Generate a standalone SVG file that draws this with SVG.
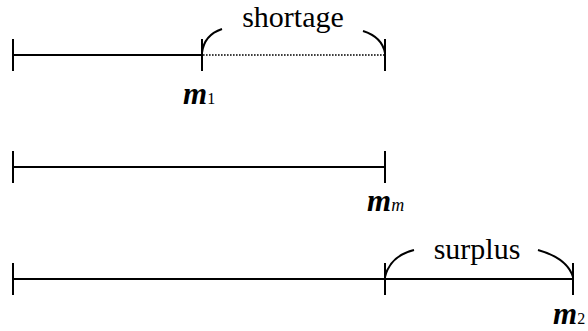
<svg xmlns="http://www.w3.org/2000/svg" width="588" height="331" viewBox="0 0 588 331">
  <style>
    .bar { stroke: #000; stroke-width: 2; fill: none; }
    .dot { stroke: #000; stroke-width: 1.6; stroke-dasharray: 1.6 1.4; fill: none; }
    .arc { stroke: #000; stroke-width: 2; fill: none; }
    text { font-family: "Liberation Serif", "Times New Roman", serif; fill: #000; }
    .word { font-size: 30px; }
    .var { font-size: 31px; font-style: italic; font-weight: bold; }
    .sub { font-size: 16px; }
    .subv { font-size: 18px; font-style: italic; }
  </style>
  <rect width="588" height="331" fill="#fff"/>

  <g id="connectors">
    <!-- row 1: m1 with shortage -->
    <line class="bar" x1="13" y1="55" x2="202" y2="55"/>
    <line class="dot" x1="203" y1="55" x2="385" y2="55"/>
    <line class="bar" x1="13" y1="39" x2="13" y2="71"/>
    <line class="bar" x1="202" y1="39" x2="202" y2="71"/>
    <line class="bar" x1="385" y1="39" x2="385" y2="71"/>
    <path class="arc" d="M202,53 Q204,35 222,29"/>
    <path class="arc" d="M363,31 Q382,37 385,53"/>

    <!-- row 2: mm -->
    <line class="bar" x1="13" y1="167" x2="385" y2="167"/>
    <line class="bar" x1="13" y1="151" x2="13" y2="183"/>
    <line class="bar" x1="385" y1="151" x2="385" y2="183"/>

    <!-- row 3: m2 with surplus -->
    <line class="bar" x1="13" y1="279" x2="573" y2="279"/>
    <line class="bar" x1="13" y1="263" x2="13" y2="295"/>
    <line class="bar" x1="385" y1="263" x2="385" y2="295"/>
    <line class="bar" x1="573" y1="263" x2="573" y2="295"/>
    <path class="arc" d="M385,277 Q390,256 414,250"/>
    <path class="arc" d="M538,250 Q567,258 573,277"/>
  </g>

  <g id="shortage">
    <text class="word" x="293" y="27" text-anchor="middle">shortage</text>
  </g>
  <g id="m1">
    <text x="183" y="104"><tspan class="var">m</tspan><tspan class="sub">1</tspan></text>
  </g>
  <g id="mm">
    <text x="367" y="211"><tspan class="var">m</tspan><tspan class="subv">m</tspan></text>
  </g>
  <g id="surplus">
    <text class="word" x="477" y="259" text-anchor="middle">surplus</text>
  </g>
  <g id="m2">
    <text x="553" y="324"><tspan class="var">m</tspan><tspan class="sub">2</tspan></text>
  </g>
</svg>
